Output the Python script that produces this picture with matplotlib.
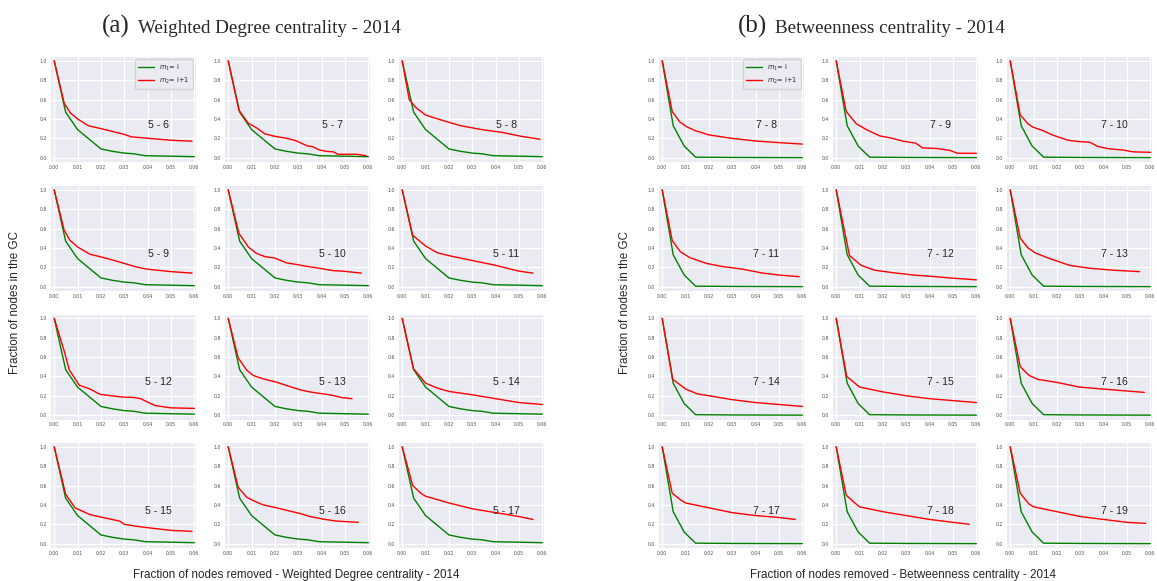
import matplotlib.pyplot as plt
import seaborn as sns

sns.set_style('darkgrid')

# green curves: m1 = i is the same in every panel of a group
green5_x = [0, 0.0049, 0.01, 0.02, 0.025, 0.03, 0.034, 0.039, 0.05, 0.06]
green5_y = [1.0, 0.47, 0.29, 0.09, 0.065, 0.047, 0.04, 0.02, 0.015, 0.01]
green7_x = [0, 0.0047, 0.0094, 0.0143, 0.03, 0.06]
green7_y = [1.0, 0.33, 0.12, 0.005, 0.002, 0.0]

# (a) weighted degree, red curves m2 = i+1
r5_6_x = [0, 0.0043, 0.007, 0.01, 0.0146, 0.02, 0.025, 0.03, 0.033, 0.04, 0.05, 0.059]
r5_6_y = [1.0, 0.56, 0.46, 0.40, 0.33, 0.30, 0.27, 0.24, 0.215, 0.2, 0.18, 0.17]
r5_7_x = [0, 0.0046, 0.0086, 0.012, 0.0157, 0.02, 0.025, 0.029, 0.034, 0.036, 0.039, 0.042, 0.045, 0.047, 0.055, 0.059]
r5_7_y = [1.0, 0.49, 0.355, 0.31, 0.245, 0.22, 0.2, 0.175, 0.12, 0.115, 0.08, 0.065, 0.06, 0.035, 0.035, 0.02]
r5_8_x = [0, 0.003, 0.0057, 0.01, 0.0165, 0.025, 0.034, 0.043, 0.051, 0.059]
r5_8_y = [1.0, 0.6, 0.52, 0.44, 0.39, 0.33, 0.29, 0.26, 0.22, 0.19]
r5_9_x = [0, 0.0043, 0.0067, 0.01, 0.0153, 0.02, 0.025, 0.03, 0.0346, 0.039, 0.044, 0.05, 0.059]
r5_9_y = [1.0, 0.58, 0.48, 0.41, 0.335, 0.307, 0.275, 0.24, 0.207, 0.183, 0.17, 0.155, 0.14]
r5_10_x = [0, 0.0046, 0.0086, 0.012, 0.0157, 0.02, 0.025, 0.029, 0.0336, 0.039, 0.045, 0.049, 0.057]
r5_10_y = [1.0, 0.55, 0.41, 0.345, 0.31, 0.295, 0.245, 0.23, 0.21, 0.19, 0.165, 0.16, 0.14]
r5_11_x = [0, 0.0045, 0.01, 0.015, 0.02, 0.03, 0.04, 0.05, 0.056]
r5_11_y = [1.0, 0.53, 0.42, 0.35, 0.32, 0.27, 0.22, 0.16, 0.14]
r5_12_x = [0, 0.0043, 0.0064, 0.0107, 0.0153, 0.0196, 0.0246, 0.0296, 0.034, 0.037, 0.043, 0.05, 0.06]
r5_12_y = [1.0, 0.66, 0.47, 0.31, 0.27, 0.215, 0.2, 0.186, 0.183, 0.17, 0.1, 0.075, 0.07]
r5_13_x = [0, 0.0043, 0.0079, 0.0107, 0.015, 0.0207, 0.0264, 0.031, 0.035, 0.039, 0.0436, 0.049, 0.053]
r5_13_y = [1.0, 0.59, 0.465, 0.41, 0.375, 0.34, 0.295, 0.26, 0.24, 0.225, 0.21, 0.18, 0.17]
r5_14_x = [0, 0.0048, 0.01, 0.015, 0.02, 0.03, 0.04, 0.05, 0.06]
r5_14_y = [1.0, 0.48, 0.33, 0.28, 0.245, 0.21, 0.17, 0.13, 0.11]
r5_15_x = [0, 0.0049, 0.0089, 0.0153, 0.02, 0.028, 0.03, 0.035, 0.0396, 0.05, 0.059]
r5_15_y = [1.0, 0.51, 0.37, 0.30, 0.274, 0.233, 0.2, 0.18, 0.166, 0.137, 0.127]
r5_16_x = [0, 0.0043, 0.0079, 0.0107, 0.015, 0.0207, 0.0264, 0.031, 0.035, 0.0407, 0.0464, 0.0557]
r5_16_y = [1.0, 0.58, 0.48, 0.445, 0.40, 0.37, 0.336, 0.31, 0.28, 0.253, 0.233, 0.22]
r5_17_x = [0, 0.0045, 0.008, 0.01, 0.02, 0.03, 0.04, 0.05, 0.056]
r5_17_y = [1.0, 0.6, 0.52, 0.49, 0.42, 0.36, 0.32, 0.28, 0.25]

# (b) betweenness, red curves m2 = i+1
r7_8_x = [0, 0.0043, 0.0075, 0.0104, 0.014, 0.02, 0.0295, 0.04, 0.05, 0.06]
r7_8_y = [1.0, 0.475, 0.37, 0.32, 0.28, 0.235, 0.2, 0.172, 0.155, 0.14]
r7_9_x = [0, 0.0043, 0.0086, 0.0129, 0.0186, 0.024, 0.0286, 0.034, 0.037, 0.043, 0.0486, 0.052, 0.06]
r7_9_y = [1.0, 0.475, 0.35, 0.29, 0.225, 0.2, 0.17, 0.15, 0.1, 0.095, 0.075, 0.045, 0.045]
r7_10_x = [0, 0.0043, 0.0076, 0.0097, 0.014, 0.018, 0.0247, 0.0297, 0.034, 0.0376, 0.0426, 0.048, 0.0526, 0.06]
r7_10_y = [1.0, 0.44, 0.35, 0.315, 0.28, 0.235, 0.18, 0.165, 0.16, 0.115, 0.09, 0.08, 0.06, 0.055]
r7_11_x = [0, 0.0043, 0.0078, 0.0118, 0.0189, 0.026, 0.0345, 0.043, 0.05, 0.0586]
r7_11_y = [1.0, 0.475, 0.36, 0.3, 0.24, 0.207, 0.18, 0.14, 0.12, 0.103]
r7_12_x = [0, 0.0057, 0.0107, 0.0164, 0.024, 0.033, 0.0414, 0.0486, 0.06]
r7_12_y = [1.0, 0.32, 0.22, 0.17, 0.145, 0.12, 0.105, 0.09, 0.07]
r7_13_x = [0, 0.0043, 0.0076, 0.011, 0.0169, 0.0254, 0.034, 0.044, 0.0554]
r7_13_y = [1.0, 0.5, 0.4, 0.345, 0.29, 0.22, 0.19, 0.17, 0.155]
r7_14_x = [0, 0.0045, 0.01, 0.015, 0.02, 0.03, 0.04, 0.05, 0.06]
r7_14_y = [1.0, 0.37, 0.27, 0.22, 0.2, 0.16, 0.13, 0.11, 0.09]
r7_15_x = [0, 0.0045, 0.01, 0.02, 0.03, 0.04, 0.05, 0.06]
r7_15_y = [1.0, 0.40, 0.29, 0.24, 0.2, 0.17, 0.15, 0.13]
r7_16_x = [0, 0.0043, 0.0081, 0.0117, 0.0196, 0.0296, 0.0396, 0.0496, 0.0574]
r7_16_y = [1.0, 0.5, 0.41, 0.37, 0.34, 0.29, 0.27, 0.25, 0.235]
r7_17_x = [0, 0.0043, 0.008, 0.01, 0.02, 0.03, 0.04, 0.05, 0.057]
r7_17_y = [1.0, 0.52, 0.45, 0.42, 0.37, 0.32, 0.29, 0.27, 0.25]
r7_18_x = [0, 0.0043, 0.008, 0.01, 0.02, 0.03, 0.04, 0.05, 0.057]
r7_18_y = [1.0, 0.5, 0.42, 0.38, 0.33, 0.29, 0.25, 0.22, 0.2]
r7_19_x = [0, 0.0043, 0.008, 0.01, 0.02, 0.03, 0.04, 0.05, 0.058]
r7_19_y = [1.0, 0.52, 0.41, 0.38, 0.33, 0.28, 0.25, 0.22, 0.21]

wd_labels = ['5 - 6', '5 - 7', '5 - 8', '5 - 9', '5 - 10', '5 - 11',
             '5 - 12', '5 - 13', '5 - 14', '5 - 15', '5 - 16', '5 - 17']
wd_red = [(r5_6_x, r5_6_y), (r5_7_x, r5_7_y), (r5_8_x, r5_8_y),
          (r5_9_x, r5_9_y), (r5_10_x, r5_10_y), (r5_11_x, r5_11_y),
          (r5_12_x, r5_12_y), (r5_13_x, r5_13_y), (r5_14_x, r5_14_y),
          (r5_15_x, r5_15_y), (r5_16_x, r5_16_y), (r5_17_x, r5_17_y)]
bt_labels = ['7 - 8', '7 - 9', '7 - 10', '7 - 11', '7 - 12', '7 - 13',
             '7 - 14', '7 - 15', '7 - 16', '7 - 17', '7 - 18', '7 - 19']
bt_red = [(r7_8_x, r7_8_y), (r7_9_x, r7_9_y), (r7_10_x, r7_10_y),
          (r7_11_x, r7_11_y), (r7_12_x, r7_12_y), (r7_13_x, r7_13_y),
          (r7_14_x, r7_14_y), (r7_15_x, r7_15_y), (r7_16_x, r7_16_y),
          (r7_17_x, r7_17_y), (r7_18_x, r7_18_y), (r7_19_x, r7_19_y)]

W, H = 1157, 581
fig = plt.figure(figsize=(W / 100, H / 100), dpi=100)

AX_W, AX_H = 146, 106
col_step, row_tops = 174, [56, 185, 313.5, 442]


def panel(left, top, red, gx, gy, label, legend):
    ax = fig.add_axes([left / W, 1 - (top + AX_H) / H, AX_W / W, AX_H / H])
    ax.plot(gx, gy, color='green', lw=1.0, label=r'$m_1$= i')
    ax.plot(red[0], red[1], color='red', lw=1.0, label=r'$m_2$= i+1')
    ax.set_xlim(-0.0018, 0.0607)
    ax.set_ylim(-0.045, 1.05)
    ax.set_xticks([0, 0.01, 0.02, 0.03, 0.04, 0.05, 0.06])
    ax.set_xticklabels(['0.00', '0.01', '0.02', '0.03', '0.04', '0.05', '0.06'])
    ax.set_yticks([0, 0.2, 0.4, 0.6, 0.8, 1.0])
    ax.set_yticklabels(['0.0', '0.2', '0.4', '0.6', '0.8', '1.0'])
    ax.tick_params(labelsize=3.3, pad=2, length=0, labelcolor='0.3')
    ax.grid(color='white', lw=0.9)
    ax.text(0.0445, 0.34, label, fontsize=7.6, ha='center', va='center',
            color='0.15', family='Liberation Sans')
    if legend:
        ax.legend(loc='upper right', fontsize=4.8, handlelength=2.4,
                  borderpad=0.45, labelspacing=0.45, frameon=True)
    return ax


for g, (x0, red_list, labels, gx, gy) in enumerate([
        (50, wd_red, wd_labels, green5_x, green5_y),
        (658, bt_red, bt_labels, green7_x, green7_y)]):
    for i in range(12):
        r, c = divmod(i, 3)
        panel(x0 + c * col_step, row_tops[r], red_list[i], gx, gy, labels[i], i == 0)

serif = 'Liberation Serif'
fig.text(102 / W, 1 - 33 / H, '(a)', fontsize=18, family=serif, va='baseline')
fig.text(138 / W, 1 - 33 / H, 'Weighted Degree centrality - 2014', fontsize=13.7,
         family=serif, va='baseline')
fig.text(738 / W, 1 - 33 / H, '(b)', fontsize=18, family=serif, va='baseline')
fig.text(775 / W, 1 - 33 / H, 'Betweenness centrality - 2014', fontsize=13.7,
         family=serif, va='baseline')

sans = 'Liberation Sans'
fig.text(296 / W, 1 - 575 / H, 'Fraction of nodes removed - Weighted Degree centrality - 2014',
         fontsize=8.4, family=sans, ha='center', va='center', color='0.15')
fig.text(903 / W, 1 - 575 / H, 'Fraction of nodes removed - Betweenness centrality - 2014',
         fontsize=8.4, family=sans, ha='center', va='center', color='0.15')
fig.text(15 / W, 1 - 302 / H, 'Fraction of nodes in the GC', fontsize=8.4, family=sans,
         rotation=90, ha='center', va='center', color='0.15')
fig.text(625 / W, 1 - 302 / H, 'Fraction of nodes in the GC', fontsize=8.4, family=sans,
         rotation=90, ha='center', va='center', color='0.15')

fig.savefig('out.png', dpi=100, facecolor='white')
